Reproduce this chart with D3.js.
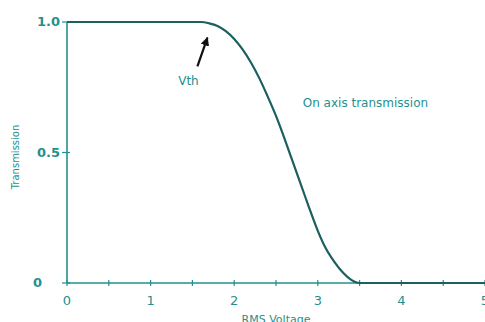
<!DOCTYPE html>
<html>
<head>
<meta charset="utf-8">
<script src="https://cdn.jsdelivr.net/npm/d3@7"></script>
<style>
  body { margin: 0; background: #fff; }
  text { font-family: "DejaVu Sans", sans-serif; fill: #23908e; }
</style>
</head>
<body>
<div id="chart"></div>
<script>
// data
var voltage = [0, 1.6, 1.7, 1.8, 1.9, 2.0, 2.1, 2.2, 2.3, 2.4, 2.5, 2.6, 2.7, 2.8, 2.9, 3.0, 3.1, 3.2, 3.3, 3.4, 3.5, 5];
var transmission = [1, 1, 0.995, 0.985, 0.965, 0.935, 0.895, 0.845, 0.785, 0.715, 0.64, 0.555, 0.465, 0.375, 0.285, 0.2, 0.13, 0.08, 0.04, 0.012, 0, 0];
var xTicks = [0, 1, 2, 3, 4, 5];
var xMinor = [0.5, 1.5, 2.5, 3.5, 4.5];
var yTicks = [0, 0.5, 1];
var yTickLabels = ['0', '0.5', '1.0'];

var svgWidth = 485;
var svgHeight = 322;

var margins = { top: 22, right: 0, bottom: 39, left: 67 };

var width = svgWidth - margins.left - margins.right;
var height = svgHeight - margins.top - margins.bottom;

var svg = d3.select('#chart')
    .append('svg')
    .attr('width', svgWidth)
    .attr('height', svgHeight);

var chartGroup = svg.append('g')
    .attr('transform', `translate(${margins.left},${margins.top})`);

var xScale = d3.scaleLinear().domain([0, 5]).range([0, 418]);
var yScale = d3.scaleLinear().domain([0, 1]).range([height, 0]);

var axisColor = '#23908e';

// x axis
chartGroup.append('line')
    .attr('x1', 0).attr('x2', width)
    .attr('y1', height).attr('y2', height)
    .attr('stroke', axisColor).attr('stroke-width', 1.6);

chartGroup.selectAll('.xtick')
    .data(xTicks.concat(xMinor))
    .enter()
    .append('line')
    .attr('x1', d => xScale(d)).attr('x2', d => xScale(d))
    .attr('y1', height - 3).attr('y2', height + 3)
    .attr('stroke', axisColor).attr('stroke-width', 1.2);

chartGroup.selectAll('.xlabel')
    .data(xTicks)
    .enter()
    .append('text')
    .attr('x', d => xScale(d))
    .attr('y', height + 22)
    .attr('text-anchor', 'middle')
    .attr('font-size', 13)
    .text(d => d);

// y axis
chartGroup.append('line')
    .attr('x1', 0).attr('x2', 0)
    .attr('y1', 0).attr('y2', height)
    .attr('stroke', axisColor).attr('stroke-width', 1.6);

chartGroup.selectAll('.ytick')
    .data(yTicks)
    .enter()
    .append('line')
    .attr('x1', -5).attr('x2', 3)
    .attr('y1', d => yScale(d)).attr('y2', d => yScale(d))
    .attr('stroke', axisColor).attr('stroke-width', 1.2);

chartGroup.selectAll('.ylabel')
    .data(yTicks)
    .enter()
    .append('text')
    .attr('x', (d, i) => i == 0 ? -25 : -7)
    .attr('y', d => yScale(d) + 4)
    .attr('text-anchor', 'end')
    .attr('font-size', 13)
    .attr('font-weight', 'bold')
    .text((d, i) => yTickLabels[i]);

// axis titles
chartGroup.append('text')
    .attr('x', xScale(2.5))
    .attr('y', height + 40)
    .attr('text-anchor', 'middle')
    .attr('font-size', 11)
    .text('RMS Voltage');

chartGroup.append('text')
    .attr('transform', 'rotate(-90)')
    .attr('x', -135)
    .attr('y', -48)
    .attr('text-anchor', 'middle')
    .attr('font-size', 10)
    .text('Transmission');

// curve
var line = d3.line()
    .x((d, i) => xScale(voltage[i]))
    .y(d => yScale(d))
    .curve(d3.curveMonotoneX);

chartGroup.append('path')
    .datum(transmission)
    .attr('d', line)
    .attr('fill', 'none')
    .attr('stroke', '#1b5f5f')
    .attr('stroke-width', 2.2);

// Vth arrow
svg.append('defs').append('marker')
    .attr('id', 'head')
    .attr('viewBox', '0 0 10 10')
    .attr('refX', 9).attr('refY', 5)
    .attr('markerWidth', 4).attr('markerHeight', 4)
    .attr('orient', 'auto')
    .append('path')
    .attr('d', 'M0,0 L10,5 L0,10 Z')
    .attr('fill', '#111');

chartGroup.append('line')
    .attr('x1', xScale(1.56)).attr('y1', yScale(0.83))
    .attr('x2', xScale(1.68)).attr('y2', yScale(0.94))
    .attr('stroke', '#111').attr('stroke-width', 2.2)
    .attr('marker-end', 'url(#head)');

chartGroup.append('text')
    .attr('x', xScale(1.33))
    .attr('y', yScale(0.76))
    .attr('font-size', 12)
    .text('Vth');

chartGroup.append('text')
    .attr('x', xScale(2.82))
    .attr('y', yScale(0.675))
    .attr('font-size', 12)
    .text('On axis transmission');
</script>
</body>
</html>
